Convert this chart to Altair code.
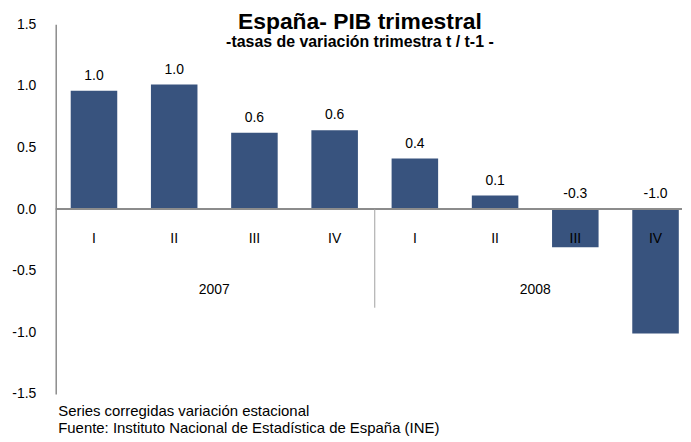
import altair as alt
import pandas as pd

quarters = ["I", "II", "III", "IV", "I", "II", "III", "IV"]
years = ["2007", "2007", "2007", "2007", "2008", "2008", "2008", "2008"]
values = [0.96, 1.01, 0.62, 0.64, 0.41, 0.11, -0.31, -1.01]
value_labels = ["1.0", "1.0", "0.6", "0.6", "0.4", "0.1", "-0.3", "-1.0"]
y_ticks = [-1.5, -1.0, -0.5, 0.0, 0.5, 1.0, 1.5]

title_text = "España- PIB trimestral"
subtitle_text = "-tasas de variación trimestra t / t-1 -"
footer_lines = [
    "Series corregidas variación estacional",
    "Fuente: Instituto Nacional de Estadística  de España (INE)",
]

FONT = "Liberation Sans"
BAR_COLOR = "#38537e"

df = pd.DataFrame({
    "idx": list(range(len(quarters))),
    "quarter": quarters,
    "year": years,
    "value": values,
    "label": value_labels,
})
sep_df = pd.DataFrame({"sx": [df[df.year == years[0]].idx.max() + 0.5]})
zero_df = pd.DataFrame({"v": [0.0]})

x_scale = alt.Scale(domain=[-0.477, 7.33], nice=False, zero=False)
y_scale = alt.Scale(domain=[-1.5, 1.5], nice=False, zero=False)

base = alt.Chart(df)

bars = base.transform_calculate(
    x0="datum.idx - 0.29", x1="datum.idx + 0.29"
).mark_bar(color=BAR_COLOR).encode(
    x=alt.X("x0:Q", scale=x_scale, axis=alt.Axis(
        title=footer_lines, labels=False, ticks=False, domain=False, grid=False,
        titleX=2, titleAlign="left", titleAnchor="start", titleBaseline="top",
        titleFontSize=15, titleFontWeight="normal", titleColor="#000000",
        titleFont=FONT, titlePadding=10, titleLineHeight=17)),
    x2="x1:Q",
    y=alt.Y("value:Q", scale=y_scale, axis=alt.Axis(
        values=y_ticks, format=".1f", labelExpr="replace(datum.label, '\u2212', '-')",
        title=None, grid=False, ticks=False,
        tickSize=0, labelPadding=20, labelFontSize=14, labelFont=FONT,
        labelColor="#000000", domainColor="#8c8c8c", domainWidth=1.5)),
    y2=alt.datum(0),
)

zero_line = alt.Chart(zero_df).mark_rule(color="#8c8c8c", strokeWidth=2).encode(
    y=alt.Y("v:Q")
)

separator = alt.Chart(sep_df).mark_rule(color="#a0a0a0", strokeWidth=1).encode(
    x=alt.X("sx:Q"),
    y=alt.datum(0),
    y2=alt.datum(-0.8),
)

value_text = base.transform_calculate(
    ly="max(datum.value, 0)"
).mark_text(dy=-11, fontSize=14, baseline="alphabetic", font=FONT, color="#000000").encode(
    x=alt.X("idx:Q"),
    y=alt.Y("ly:Q"),
    text="label:N",
)

quarter_text = base.mark_text(fontSize=14, baseline="middle", font=FONT, color="#000000").encode(
    x=alt.X("idx:Q"),
    y=alt.datum(-0.245),
    text="quarter:N",
)

year_text = base.transform_aggregate(
    xc="mean(idx)", groupby=["year"]
).mark_text(fontSize=14, baseline="middle", font=FONT, color="#000000").encode(
    x=alt.X("xc:Q"),
    y=alt.datum(-0.655),
    text="year:N",
)

chart = alt.layer(
    bars, zero_line, separator, value_text, quarter_text, year_text
).properties(
    width=630,
    height=372,
    padding={"left": 3, "top": 2, "right": 0, "bottom": 0},
    title=alt.TitleParams(
        text=title_text, subtitle=subtitle_text, anchor="middle", frame="group",
        dx=-9, offset=-33, font=FONT, fontSize=23, fontWeight="bold", color="#000000",
        subtitleFont=FONT, subtitleFontSize=16, subtitleFontWeight="bold",
        subtitleColor="#000000", subtitlePadding=0,
    ),
).configure_view(stroke=None)

chart.save("out.html", embed_options={"renderer": "svg", "actions": False})
